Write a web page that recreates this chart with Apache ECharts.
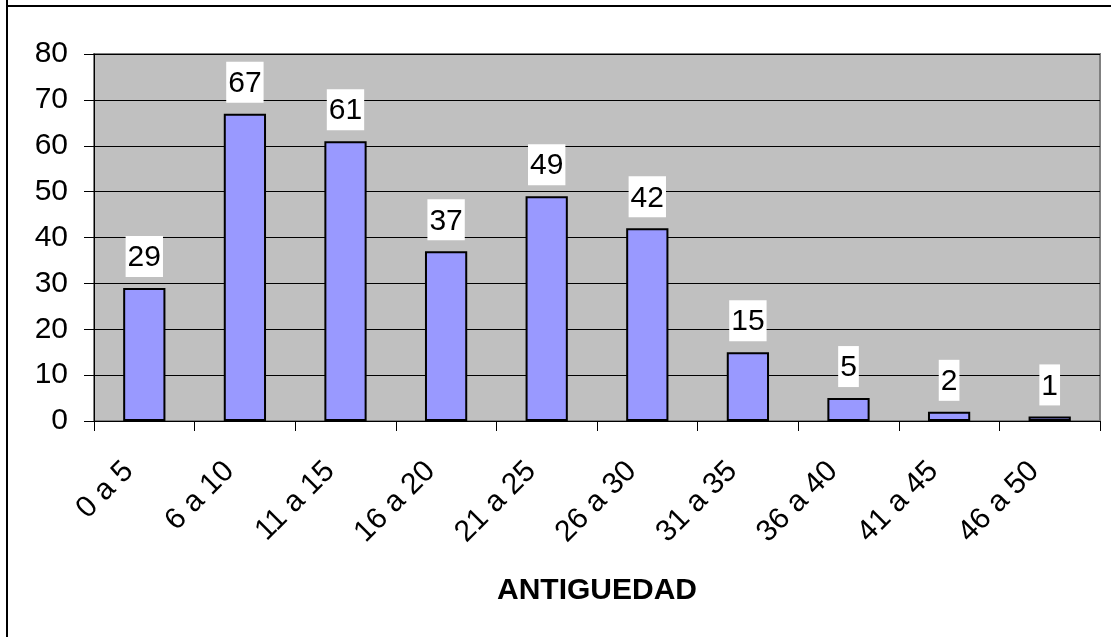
<!DOCTYPE html>
<html>
<head>
<meta charset="utf-8">
<script src="https://cdn.jsdelivr.net/npm/echarts@6/dist/echarts.min.js"></script>
<style>
  html, body { margin: 0; padding: 0; background: #fff; }
  #chart { width: 1111px; height: 637px; }
</style>
</head>
<body>
<div id="chart"></div>
<script>
// antiguedad ranges and counts
const categories = ["0 a 5", "6 a 10", "11 a 15", "16 a 20", "21 a 25", "26 a 30", "31 a 35", "36 a 40", "41 a 45", "46 a 50"];
const counts = [29, 67, 61, 37, 49, 42, 15, 5, 2, 1];
const yTicks = { min: 0, max: 80, interval: 10 };

const font = "Liberation Sans, Arial, sans-serif";
const chart = echarts.init(document.getElementById("chart"));

chart.setOption({
  animation: false,
  backgroundColor: "#fff",
  grid: {
    left: 94,
    right: 11,
    top: 54,
    bottom: 216,
    show: true,
    backgroundColor: "#c0c0c0",
    borderColor: "#808080",
    borderWidth: 2
  },
  graphic: [
    { type: "line", shape: { x1: 7, y1: 0, x2: 7, y2: 637 }, style: { stroke: "#000", lineWidth: 2 } },
    { type: "line", shape: { x1: 7, y1: 6, x2: 1111, y2: 6 }, style: { stroke: "#000", lineWidth: 2 } }
  ],
  xAxis: {
    type: "category",
    data: categories,
    name: "ANTIGUEDAD",
    nameLocation: "middle",
    nameGap: 155,
    nameTextStyle: { fontFamily: font, fontSize: 30, fontWeight: "bold", color: "#000" },
    axisLine: { lineStyle: { color: "#000", width: 1 } },
    axisTick: { show: true, length: 10, lineStyle: { color: "#000" } },
    axisLabel: {
      rotate: 45, fontFamily: font, fontSize: 30, color: "#000",
      margin: 30, interval: 0, padding: [0, 22, 0, 0]
    }
  },
  yAxis: {
    type: "value",
    min: yTicks.min,
    max: yTicks.max,
    interval: yTicks.interval,
    axisLine: { show: true, lineStyle: { color: "#000" } },
    axisTick: { show: true, length: 10, lineStyle: { color: "#000" } },
    splitLine: { lineStyle: { color: "#000", width: 1 } },
    axisLabel: { fontFamily: font, fontSize: 30, color: "#000", margin: 26 }
  },
  series: [{
    type: "bar",
    data: counts,
    barWidth: "42%",
    itemStyle: { color: "#9999ff", borderColor: "#000", borderWidth: 2 },
    label: {
      show: true,
      position: "top",
      distance: 11,
      fontFamily: font,
      fontSize: 30,
      lineHeight: 30,
      color: "#000",
      backgroundColor: "#fff",
      padding: [7, 2, 4, 2]
    }
  }]
});
</script>
</body>
</html>
